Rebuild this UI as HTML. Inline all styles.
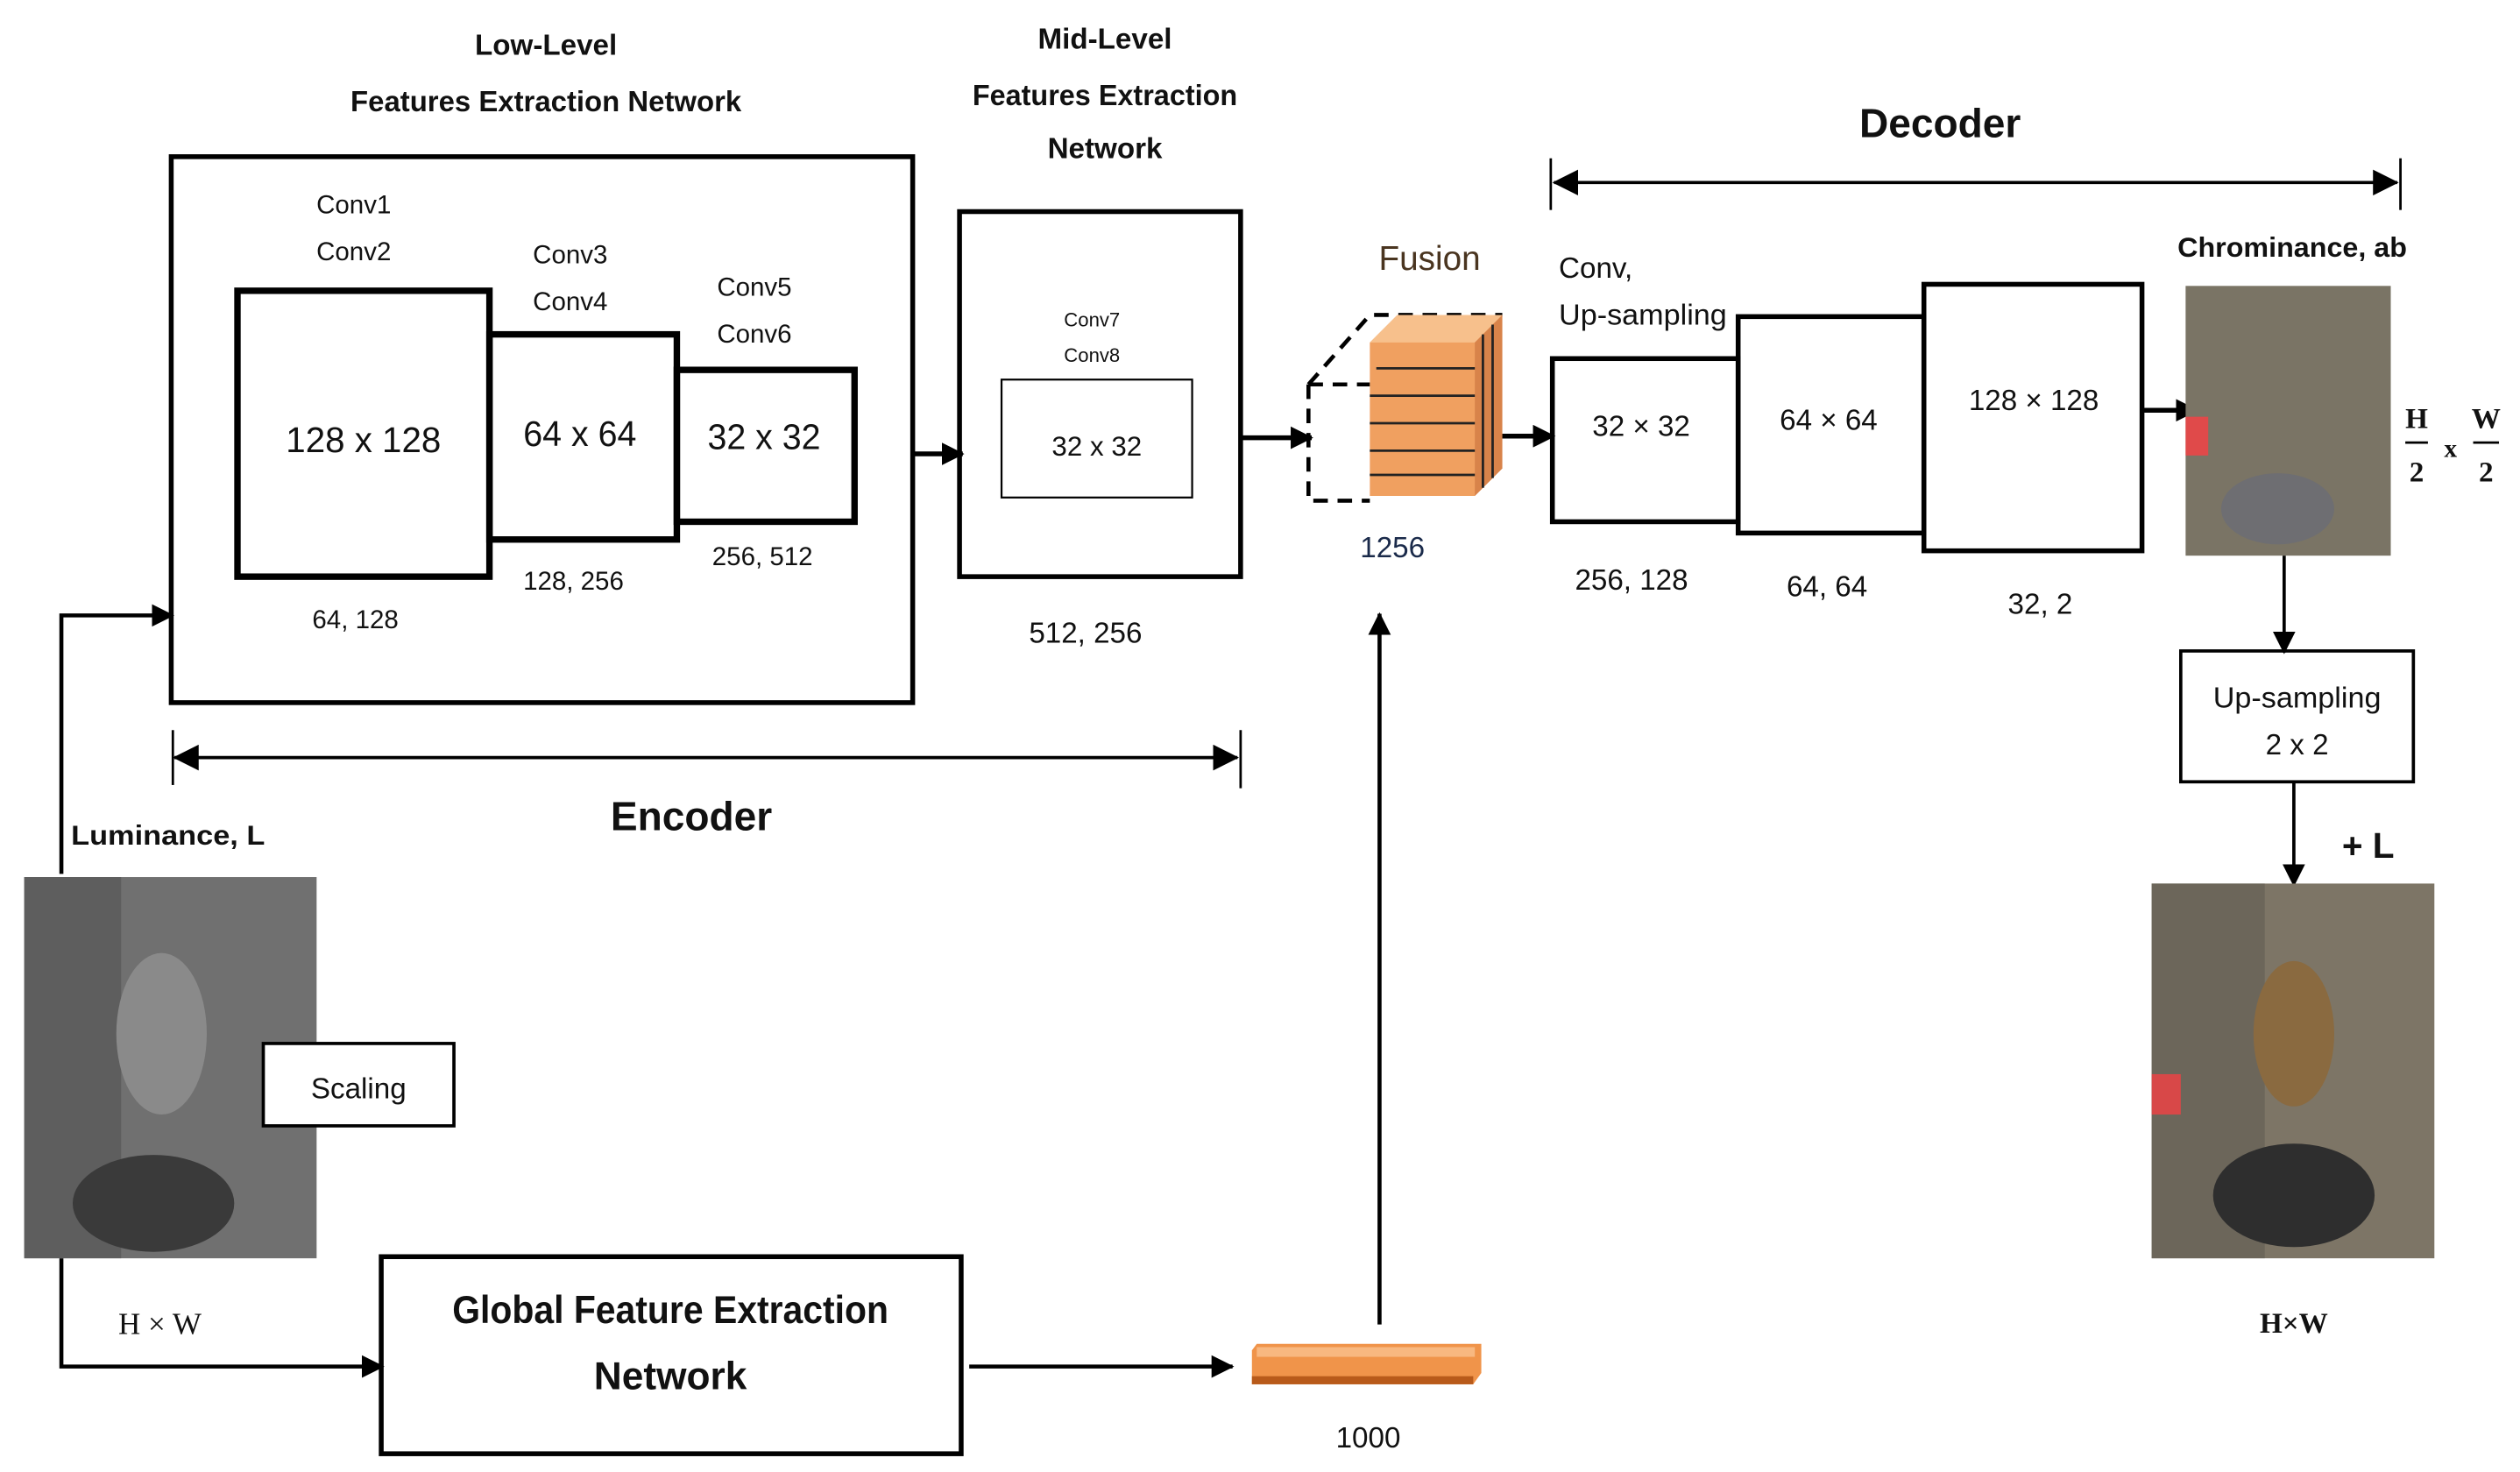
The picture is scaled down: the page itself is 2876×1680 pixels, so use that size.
<!DOCTYPE html>
<html><head><meta charset="utf-8"><style>
html,body{margin:0;padding:0;background:#fff;}
svg{display:block;}
text{font-family:"Liberation Sans Narrow","Liberation Sans",sans-serif;fill:#111;text-anchor:middle;}
.b{font-weight:bold;}
.s{font-family:"Liberation Serif",serif;font-weight:bold;}
</style></head><body>
<svg width="2876" height="1680" viewBox="0 0 1560 911.3" preserveAspectRatio="none" xmlns="http://www.w3.org/2000/svg">
<defs>
<marker id="a" markerWidth="14" markerHeight="14" refX="13" refY="7" orient="auto" markerUnits="userSpaceOnUse"><path d="M0,0 L14,7 L0,14 z" fill="#000"/></marker>
<marker id="as" markerWidth="16" markerHeight="16" refX="15" refY="8" orient="auto-start-reverse" markerUnits="userSpaceOnUse"><path d="M0,0 L16,8 L0,16 z" fill="#000"/></marker>
</defs>
<g fill="none" stroke="#000">
<rect x="106" y="97" width="459" height="338" stroke-width="3"/>
<rect x="147" y="180" width="156" height="177" stroke-width="4"/>
<rect x="303" y="207" width="116" height="127" stroke-width="4"/>
<rect x="419" y="229" width="110" height="94" stroke-width="4"/>
<line x1="565" y1="281" x2="596" y2="281" stroke-width="3" marker-end="url(#a)"/>
<rect x="594" y="131" width="174" height="226" stroke-width="3"/>
<rect x="620" y="235" width="118" height="73" stroke-width="1.2"/>
<line x1="768" y1="271" x2="812" y2="271" stroke-width="3" marker-end="url(#a)"/>
<path d="M810,238 L810,310 L848,310 M810,238 L848,238 M810,238 L848,195 L930,195" stroke-width="2.5" stroke-dasharray="9,6"/>
<line x1="918" y1="270" x2="962" y2="270" stroke-width="3" marker-end="url(#a)"/>
<line x1="962" y1="113" x2="1484" y2="113" stroke-width="2" marker-start="url(#as)" marker-end="url(#as)"/>
<line x1="960" y1="98" x2="960" y2="130" stroke-width="1.5"/>
<line x1="1486" y1="98" x2="1486" y2="130" stroke-width="1.5"/>
<rect x="961" y="222" width="115" height="101" stroke-width="3"/>
<rect x="1076" y="196" width="115" height="134" stroke-width="3"/>
<rect x="1191" y="176" width="135" height="165" stroke-width="3"/>
<line x1="1326" y1="254" x2="1360" y2="254" stroke-width="3" marker-end="url(#a)"/>
<line x1="1414" y1="344" x2="1414" y2="404" stroke-width="2" marker-end="url(#a)"/>
<rect x="1350" y="403" width="144" height="81" stroke-width="2"/>
<line x1="1420" y1="484" x2="1420" y2="548" stroke-width="2" marker-end="url(#a)"/>
<line x1="108" y1="469" x2="766" y2="469" stroke-width="2" marker-start="url(#as)" marker-end="url(#as)"/>
<line x1="107" y1="452" x2="107" y2="486" stroke-width="1.5"/>
<line x1="768" y1="452" x2="768" y2="488" stroke-width="1.5"/>
<polyline points="38,541 38,381 107,381" stroke-width="2.5" marker-end="url(#a)"/>
<polyline points="38,779 38,846 237,846" stroke-width="2.5" marker-end="url(#a)"/>
<rect x="236" y="778" width="359" height="122" stroke-width="3"/>
<line x1="600" y1="846" x2="763" y2="846" stroke-width="2.5" marker-end="url(#a)"/>
<line x1="854" y1="820" x2="854" y2="380" stroke-width="2.5" marker-end="url(#a)"/>
</g>
<polygon points="848,212 865,195 930,195 930,290 913,307 848,307" fill="#f0a060"/>
<polygon points="848,212 865,195 930,195 913,212" fill="#f7c08c"/>
<polygon points="913,212 930,195 930,290 913,307" fill="#d8834a"/>
<g stroke="#222" stroke-width="1.5">
<line x1="852" y1="228" x2="913" y2="228"/><line x1="848" y1="245" x2="913" y2="245"/><line x1="848" y1="262" x2="913" y2="262"/><line x1="848" y1="279" x2="913" y2="279"/><line x1="848" y1="294" x2="913" y2="294"/>
<line x1="918" y1="207" x2="918" y2="302"/><line x1="924" y1="201" x2="924" y2="296"/>
</g>
<rect x="1353" y="177" width="127" height="167" fill="#7a7465"/>
<rect x="1353" y="258" width="14" height="24" fill="#e04a4a"/>
<ellipse cx="1410" cy="315" rx="35" ry="22" fill="#6e6e72"/>
<rect x="1332" y="547" width="175" height="232" fill="#7d7566"/>
<rect x="1332" y="547" width="70" height="232" fill="#6c665a"/>
<ellipse cx="1420" cy="740" rx="50" ry="32" fill="#2e2e2e"/>
<ellipse cx="1420" cy="640" rx="25" ry="45" fill="#8a6a40"/>
<rect x="1332" y="665" width="18" height="25" fill="#d84848"/>
<rect x="15" y="543" width="181" height="236" fill="#707070"/>
<rect x="15" y="543" width="60" height="236" fill="#5e5e5e"/>
<ellipse cx="95" cy="745" rx="50" ry="30" fill="#3a3a3a"/>
<ellipse cx="100" cy="640" rx="28" ry="50" fill="#8a8a8a"/>
<rect x="163" y="646" width="118" height="51" fill="#fff" stroke="#000" stroke-width="2"/>
<polygon points="778,832 917,832 917,850 912,857 775,857 775,836" fill="#f0944a"/>
<rect x="778" y="834" width="135" height="6" fill="#f8b880"/>
<rect x="775" y="852" width="137" height="5" fill="#b85a1a"/>
<text class="b" x="338" y="34" font-size="18">Low-Level</text>
<text class="b" x="338" y="69" font-size="18" textLength="242" lengthAdjust="spacingAndGlyphs">Features Extraction Network</text>
<text x="219" y="132" font-size="16">Conv1</text><text x="219" y="161" font-size="16">Conv2</text>
<text x="353" y="163" font-size="16">Conv3</text><text x="353" y="192" font-size="16">Conv4</text>
<text x="467" y="183" font-size="16">Conv5</text><text x="467" y="212" font-size="16">Conv6</text>
<text x="225" y="280" font-size="22" textLength="96" lengthAdjust="spacingAndGlyphs">128 x 128</text>
<text x="359" y="276" font-size="22" textLength="70" lengthAdjust="spacingAndGlyphs">64 x 64</text>
<text x="473" y="278" font-size="22" textLength="70" lengthAdjust="spacingAndGlyphs">32 x 32</text>
<text x="220" y="389" font-size="16">64, 128</text>
<text x="355" y="365" font-size="16">128, 256</text>
<text x="472" y="350" font-size="16">256, 512</text>
<text class="b" x="684" y="30" font-size="18">Mid-Level</text>
<text class="b" x="684" y="65" font-size="18" textLength="164" lengthAdjust="spacingAndGlyphs">Features Extraction</text>
<text class="b" x="684" y="98" font-size="18">Network</text>
<text x="676" y="202" font-size="12">Conv7</text><text x="676" y="224" font-size="12">Conv8</text>
<text x="679" y="282" font-size="17">32 x 32</text>
<text x="672" y="398" font-size="18">512, 256</text>
<text x="885" y="167" font-size="21" style="fill:#4a3520">Fusion</text>
<text x="862" y="345" font-size="18" style="fill:#1a2a4a">1256</text>
<text class="b" x="1201" y="85" font-size="25">Decoder</text>
<text x="965" y="172" font-size="18" style="text-anchor:start">Conv,</text>
<text x="965" y="201" font-size="18" style="text-anchor:start" textLength="104" lengthAdjust="spacingAndGlyphs">Up-sampling</text>
<text x="1016" y="270" font-size="18">32 × 32</text>
<text x="1132" y="266" font-size="18">64 × 64</text>
<text x="1259" y="254" font-size="18">128 × 128</text>
<text x="1010" y="365" font-size="18">256, 128</text>
<text x="1131" y="369" font-size="18">64, 64</text>
<text x="1263" y="380" font-size="18">32, 2</text>
<text class="b" x="1419" y="159" font-size="17" textLength="142" lengthAdjust="spacingAndGlyphs">Chrominance, ab</text>
<text class="s" x="1496" y="265" font-size="18">H</text>
<line x1="1489" y1="274" x2="1503" y2="274" stroke="#000" stroke-width="1.5"/>
<text class="s" x="1496" y="298" font-size="18">2</text>
<text class="s" x="1517" y="283" font-size="16">x</text>
<text class="s" x="1539" y="265" font-size="18">W</text>
<line x1="1531" y1="274" x2="1547" y2="274" stroke="#000" stroke-width="1.5"/>
<text class="s" x="1539" y="298" font-size="18">2</text>
<text x="1422" y="438" font-size="18" textLength="104" lengthAdjust="spacingAndGlyphs">Up-sampling</text>
<text x="1422" y="467" font-size="18">2 x 2</text>
<text class="b" x="1466" y="531" font-size="22">+ L</text>
<text class="s" x="1420" y="825" font-size="18">H×W</text>
<text class="b" x="428" y="514" font-size="25">Encoder</text>
<text class="b" x="44" y="523" font-size="17" style="text-anchor:start" textLength="120" lengthAdjust="spacingAndGlyphs">Luminance,   L</text>
<text x="222" y="680" font-size="18">Scaling</text>
<text class="s" x="99" y="826" font-size="19" style="font-weight:normal">H × W</text>
<text class="b" x="415" y="819" font-size="24" textLength="270" lengthAdjust="spacingAndGlyphs">Global Feature Extraction</text>
<text class="b" x="415" y="860" font-size="24">Network</text>
<text x="847" y="896" font-size="18">1000</text>
</svg>
</body></html>
